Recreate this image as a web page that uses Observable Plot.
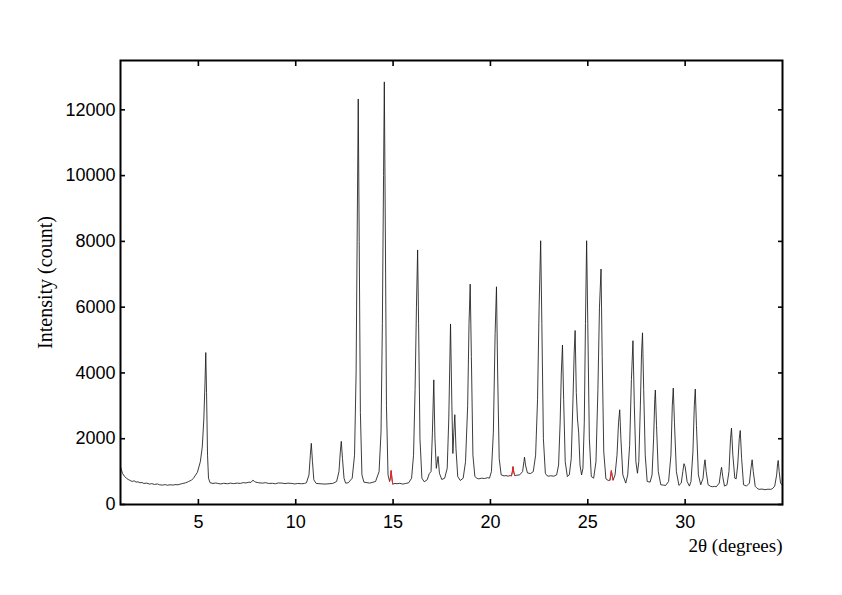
<!DOCTYPE html>
<html>
<head>
<meta charset="utf-8">
<script src="https://cdn.jsdelivr.net/npm/d3@7"></script>
<script src="https://cdn.jsdelivr.net/npm/@observablehq/plot@0.6"></script>
<style>
  html, body { margin: 0; padding: 0; background: white; }
</style>
</head>
<body>
<div id="chart"></div>
<script>
// 2θ positions (degrees) of the diffraction profile
const twoTheta = [
  1.0, 1.05, 1.1, 1.2, 1.3, 1.4, 1.5, 1.6, 1.7, 1.8, 1.9, 2.0, 2.1, 2.2, 2.35, 2.5, 2.6, 2.75, 2.9, 3.0, 3.15, 3.3, 3.4, 3.55, 3.7, 3.8, 3.95, 4.1, 4.2, 4.35, 4.5, 4.65, 4.75,
  4.95, 5.1, 5.2, 5.28, 5.34, 5.38, 5.42, 5.47, 5.52,
  5.6, 5.75, 5.9, 6.0, 6.15, 6.3, 6.5, 6.65, 6.8, 7.0, 7.15, 7.3, 7.45, 7.6, 7.7, 7.8, 7.88, 7.95, 8.1, 8.3, 8.45, 8.6, 8.8, 8.95, 9.1, 9.3, 9.45, 9.6, 9.8, 9.95, 10.1, 10.3, 10.45, 10.55,
  10.68, 10.75, 10.8, 10.86, 10.93, 11.05,
  11.5, 11.9, 12.1, 12.22, 12.29, 12.34, 12.4, 12.48, 12.56, 12.7, 12.9, 13.02, 13.1, 13.16, 13.21, 13.26, 13.32, 13.4, 13.5,
  13.8, 14.1, 14.28, 14.38, 14.45, 14.51, 14.55, 14.6, 14.66, 14.74, 14.82, 14.86, 14.9, 14.94, 14.98,
  15.1, 15.2, 15.35, 15.5, 15.65, 15.8, 15.95, 16.05, 16.13, 16.2, 16.26, 16.31, 16.38, 16.48, 16.6, 16.75, 16.86, 16.95, 17.02, 17.09, 17.15, 17.22, 17.31, 17.38,
  17.5, 17.65, 17.78, 17.86, 17.95, 18.02, 18.07, 18.12, 18.17, 18.23, 18.32, 18.45, 18.6, 18.72, 18.83, 18.9, 18.96, 19.02, 19.1, 19.2,
  19.3, 19.4, 19.55, 19.7, 19.85, 19.95, 20.05, 20.15, 20.24, 20.31, 20.37, 20.45, 20.55, 20.7, 20.8, 20.9, 21.0, 21.08, 21.12, 21.16, 21.2, 21.25,
  21.35, 21.5, 21.65, 21.72, 21.75, 21.8, 21.9, 22.05, 22.2, 22.32, 22.42, 22.5, 22.58, 22.64, 22.72, 22.82,
  22.9, 23.0, 23.1, 23.25, 23.4, 23.5, 23.58, 23.64, 23.7, 23.76, 23.84, 23.95, 24.05, 24.15, 24.24, 24.3, 24.35, 24.41, 24.47, 24.53, 24.6, 24.68,
  24.75, 24.82, 24.88, 24.94, 25.0, 25.08, 25.18, 25.3, 25.42, 25.52, 25.6, 25.68, 25.74, 25.82, 25.93,
  26.05, 26.14, 26.18, 26.21, 26.25, 26.3, 26.4, 26.5, 26.58, 26.64, 26.7, 26.8, 26.95,
  27.05, 27.15, 27.24, 27.32, 27.39, 27.47, 27.55, 27.62, 27.7, 27.76, 27.81, 27.87, 27.95, 28.05,
  28.2, 28.3, 28.38, 28.44, 28.47, 28.53, 28.62, 28.75, 28.88, 29.0, 29.15, 29.27, 29.34, 29.39, 29.45, 29.55, 29.68,
  29.8, 29.88, 29.94, 30.0, 30.1, 30.22, 30.3, 30.4, 30.47, 30.52, 30.58, 30.68, 30.8, 30.92, 30.98, 31.02, 31.08, 31.18,
  31.3, 31.4, 31.5, 31.6, 31.75, 31.83, 31.87, 31.93, 32.02, 32.15, 32.25, 32.33, 32.38, 32.45, 32.55, 32.62, 32.7, 32.78, 32.83, 32.9, 33.0,
  33.15, 33.3, 33.38, 33.44, 33.5, 33.6, 33.7, 33.8, 33.95, 34.1, 34.25, 34.4, 34.5, 34.6, 34.7, 34.75, 34.78, 34.83, 34.9, 35.0
];
// intensity (count) at each 2θ position
const counts = [
  1150, 1050, 950, 860, 800, 760, 730, 700, 720, 680, 690, 660, 670, 640, 650, 620, 635, 610, 625, 600, 590, 605, 585, 600, 590, 605, 600, 625, 640, 660, 700, 740, 800,
  980, 1300, 1750, 2600, 3700, 4620, 3400, 1500, 800,
  660, 640, 655, 640, 625, 645, 630, 650, 635, 650, 640, 665, 655, 680, 670, 740, 700, 680, 660, 650, 665, 640, 645, 630, 655, 650, 635, 650, 640, 625, 640, 630, 640, 660,
  900, 1500, 1860, 1300, 750, 640,
  620, 640, 700, 1000, 1600, 1920, 1400, 800, 650, 660, 800, 1500, 4000, 8500, 12330, 8000, 2800, 900, 680,
  650, 700, 1000, 2200, 5500, 10000, 12850, 8500, 3000, 900, 700, 800, 1030, 800, 620,
  640, 630, 645, 620, 640, 660, 800, 1500, 3500, 6000, 7740, 5500, 2000, 800, 690, 750, 940, 1000, 2200, 3790, 2000, 1100, 1460, 950,
  760, 800, 1100, 2600, 5490, 3000, 1550, 2200, 2730, 1700, 850, 730, 800, 1300, 3000, 5500, 6700, 4500, 1500, 850,
  800, 780, 800, 790, 815, 800, 1000, 2200, 5200, 6620, 4000, 1400, 900, 870, 880, 860, 880, 870, 980, 1150, 980, 880,
  890, 900, 1000, 1300, 1440, 1200, 960, 940, 1000, 1500, 3200, 6000, 8020, 5500, 2000, 950,
  880, 860, 875, 860, 900, 1200, 2500, 4000, 4850, 3200, 1300, 850, 900, 1400, 3200, 4600, 5290, 3400, 2600, 2200, 1200, 900,
  1100, 2500, 5500, 8020, 5500, 2000, 850, 800, 1300, 3500, 6000, 7160, 4500, 1600, 780,
  730, 740, 900, 1030, 880, 740, 900, 1500, 2500, 2880, 2000, 900, 650,
  900, 1800, 3800, 4980, 3000, 1300, 950, 1300, 3000, 4600, 5220, 3500, 1500, 700,
  680, 900, 2000, 3200, 3480, 2400, 1000, 600, 590, 580, 700, 1500, 3000, 3540, 2500, 1000, 580,
  650, 1000, 1240, 1150, 700, 560, 700, 1600, 3000, 3510, 2400, 900, 600, 800, 1200, 1360, 1000, 600,
  555, 540, 550, 540, 650, 1000, 1130, 850, 560, 600, 1000, 2000, 2320, 1500, 800, 780, 1200, 2000, 2250, 1400, 600,
  560, 650, 1100, 1360, 1000, 550, 490, 460, 470, 450, 465, 460, 490, 560, 900, 1250, 1340, 1000, 650, 580
];
// small peaks drawn in red
const redTheta  = [14.82, 14.86, 14.9, 14.94, 14.98, 21.08, 21.12, 21.16, 21.2, 21.25, 26.14, 26.18, 26.21, 26.25, 26.3];
const redCounts = [700, 800, 1030, 800, 620, 870, 980, 1150, 980, 880, 740, 900, 1030, 880, 740];
const redGroup  = ["a", "a", "a", "a", "a", "b", "b", "b", "b", "b", "c", "c", "c", "c", "c"];

const xTicks = [5, 10, 15, 20, 25, 30];
const yTicks = [0, 2000, 4000, 6000, 8000, 10000, 12000];
const xTitle = "2θ (degrees)";
const yTitle = "Intensity (count)";

const profile = twoTheta.map((t, i) => ({t, c: counts[i]}));
const redPeaks = redTheta.map((t, i) => ({t, c: redCounts[i], g: redGroup[i]}));

const sans = "'Liberation Sans', Arial, Helvetica, sans-serif";
const serif = "'Liberation Serif', 'Times New Roman', serif";

const chart = Plot.plot({
  width: 842,
  height: 595,
  marginLeft: 120,
  marginRight: 60,
  marginTop: 60,
  marginBottom: 91,
  style: {fontFamily: sans, fontSize: "18px", background: "white", color: "black", overflow: "visible"},
  x: {domain: [1, 35], label: null},
  y: {domain: [0, 13500], label: null},
  marks: [
    Plot.line(profile, {x: "t", y: "c", stroke: "#1a1a1a", strokeWidth: 0.85}),
    Plot.line(redPeaks, {x: "t", y: "c", z: "g", stroke: "#ff2020", strokeWidth: 0.9}),
    Plot.frame({stroke: "black", strokeWidth: 2}),
    Plot.axisX(xTicks, {anchor: "bottom", tickSize: -5, tickPadding: 16, strokeWidth: 1.6, label: null, fontSize: 18, tickFormat: d => String(d)}),
    Plot.axisX(xTicks, {anchor: "top", tickSize: -5, strokeWidth: 1.6, fill: "none", label: null}),
    Plot.axisY(yTicks, {anchor: "left", tickSize: -5, tickPadding: 10, strokeWidth: 1.6, label: null, fontSize: 18, tickFormat: d => String(d)}),
    Plot.axisY(yTicks, {anchor: "right", tickSize: -5, strokeWidth: 1.6, fill: "none", label: null}),
    Plot.text([xTitle], {frameAnchor: "bottom-right", dy: 41, textAnchor: "end", lineAnchor: "middle", fontFamily: serif, fontSize: 19, fill: "black"}),
    Plot.text([yTitle], {frameAnchor: "left", dx: -75, rotate: -90, textAnchor: "middle", lineAnchor: "middle", fontFamily: serif, fontSize: 20, fill: "black"})
  ]
});
document.getElementById("chart").appendChild(chart);
</script>
</body>
</html>
